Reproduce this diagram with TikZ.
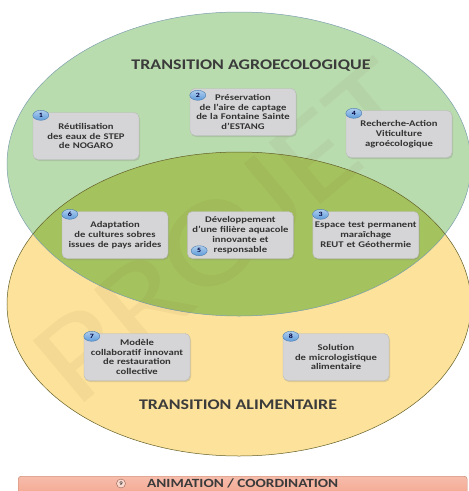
\documentclass[tikz,border=0pt]{standalone}
\usepackage{fontspec}
\setmainfont{Carlito}[FakeStretch=1.22]
\usepackage{xcolor}
\usetikzlibrary{positioning, shapes.geometric, shadows}
\definecolor{agroGreen}{HTML}{B9DCAE}
\definecolor{alimYellow}{HTML}{FCE29A}
\definecolor{mixGreen}{HTML}{A4C25E}
\definecolor{boxGrey}{HTML}{D5D5D7}
\definecolor{badgeBlue}{HTML}{5E9BDA}
\definecolor{bannerRed}{HTML}{F3A087}
\definecolor{titleGrey}{HTML}{3B3B3B}

\begin{document}
\begin{tikzpicture}[x=1pt, y=-1pt,
    box/.style={draw=gray!55, fill=boxGrey, rounded corners=5pt, text width=104pt,
      minimum width=106pt, minimum height=47pt, align=center, text=black!80,
      font=\bfseries\fontsize{8.7}{9.8}\selectfont, inner sep=1pt,
      drop shadow={opacity=0.25, shadow xshift=1pt, shadow yshift=-1.5pt}},
    badge/.style={ellipse, draw=badgeBlue!80!black, top color=badgeBlue!50,
      bottom color=badgeBlue, minimum width=16pt, minimum height=10pt, inner sep=0pt,
      font=\bfseries\fontsize{6.5}{6.5}\selectfont, text=blue!25!black},
    title/.style={font=\bfseries\fontsize{14.7}{15}\selectfont, text=titleGrey}]
  \useasboundingbox (0,0) rectangle (469,491);
  \clip (0,0) rectangle (469,491);
  % the two transitions
  \fill[alimYellow] (239,304) ellipse [x radius=232, y radius=152];
  \fill[agroGreen] (239,164) ellipse [x radius=232, y radius=152];
  \begin{scope}
    \clip (239,164) ellipse [x radius=232, y radius=152];
    \fill[mixGreen] (239,304) ellipse [x radius=232, y radius=152];
  \end{scope}
  \draw[olive!60!black, line width=0.5pt] (239,304) ellipse [x radius=232, y radius=152];
  \draw[cyan!30!gray, line width=0.5pt] (239,164) ellipse [x radius=232, y radius=152];
  % watermark
  \node[rotate=40, opacity=0.06, text=brown!60!black,
    font=\fontsize{125}{125}\selectfont] (wm) at (226,232) {PROJET};
  \node[title] (agro) at (251,66) {TRANSITION AGROECOLOGIQUE};
  \node[title] (alim) at (238,405) {TRANSITION ALIMENTAIRE};
  % actions
  \node[box] (reuse) at (86,136) {Réutilisation\\des eaux de STEP\\de NOGARO};
  \node[box] (fontaine) at (243,112) {Préservation\\de l'aire de captage\\de la Fontaine Sainte\\d'ESTANG};
  \node[box] (viti) at (399,134) {Recherche-Action\\Viticulture\\agroécologique};
  \node[box] (arides) at (115,235) {Adaptation\\de cultures sobres\\issues de pays arides};
  \node[box, right=19pt of arides] (aqua) {Développement\\d'une filière aquacole\\innovante et\\responsable};
  \node[box, right=19pt of aqua] (maraich) {Espace test permanent\\maraîchage\\REUT et Géothermie};
  \node[box] (resto) at (137,357) {Modèle\\collaboratif innovant\\de restauration\\collective};
  \node[box] (logist) at (336,357) {Solution\\de micrologistique\\alimentaire};
  % numbers
  \node[badge] (n1) at ([xshift=8pt, yshift=-3pt]reuse.north west) {1};
  \node[badge] (n2) at ([xshift=8pt, yshift=-7pt]fontaine.north west) {2};
  \node[badge] (n4) at ([xshift=8pt, yshift=-3pt]viti.north west) {4};
  \node[badge] (n6) at ([xshift=8pt, yshift=-3pt]arides.north west) {6};
  \node[badge] (n5) at ([xshift=12pt, yshift=8pt]aqua.south west) {5};
  \node[badge] (n3) at ([xshift=8pt, yshift=-3pt]maraich.north west) {3};
  \node[badge] (n7) at ([xshift=8pt, yshift=-3pt]resto.north west) {7};
  \node[badge] (n8) at ([xshift=8pt, yshift=-3pt]logist.north west) {8};
  % coordination banner
  \node[draw=bannerRed!80!black, top color=bannerRed!70, bottom color=bannerRed,
    rounded corners=3pt, minimum width=449pt, minimum height=26pt, anchor=north west]
    (coord) at (18,476) {};
  \node[font=\bfseries\fontsize{12.5}{12.5}\selectfont, text=titleGrey, anchor=west,
    inner sep=0pt] (anim) at (147,483.5) {ANIMATION / COORDINATION};
  \node[circle, draw=bannerRed!60!black, fill=bannerRed!40, minimum size=9pt, inner sep=0pt,
    font=\bfseries\fontsize{5.5}{6}\selectfont, text=titleGrey] (n9) at (121,483.5) {9};
\end{tikzpicture}
\end{document}
